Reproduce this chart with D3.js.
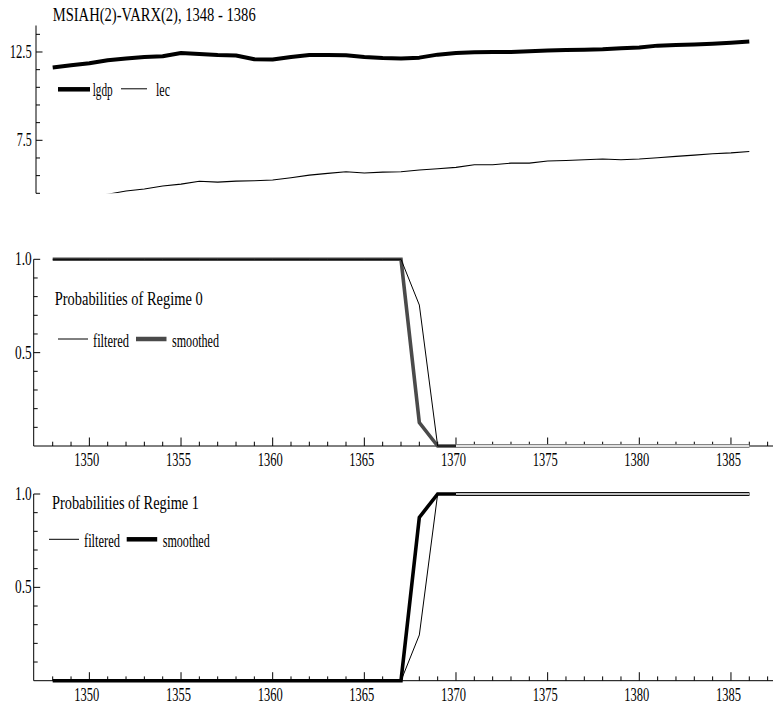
<!DOCTYPE html>
<html><head><meta charset="utf-8">
<script src="https://cdn.jsdelivr.net/npm/d3@7"></script>
<style>
html,body{margin:0;padding:0;background:#fff;}
svg{display:block;}
text{font-family:"Liberation Serif","Times New Roman",serif;fill:#000;}
</style></head>
<body>
<svg id="chart" width="774" height="711"></svg>
<script>
const years = [1348,1349,1350,1351,1352,1353,1354,1355,1356,1357,1358,1359,1360,1361,1362,1363,1364,1365,1366,1367,1368,1369,1370,1371,1372,1373,1374,1375,1376,1377,1378,1379,1380,1381,1382,1383,1384,1385,1386];
const lgdp = [11.62,11.75,11.86,12.03,12.13,12.22,12.26,12.44,12.39,12.33,12.30,12.09,12.07,12.22,12.33,12.33,12.31,12.22,12.16,12.13,12.18,12.35,12.44,12.48,12.50,12.50,12.54,12.58,12.61,12.63,12.65,12.71,12.75,12.86,12.90,12.93,12.97,13.03,13.10];
const lec = [4.05,4.15,4.28,4.45,4.63,4.74,4.91,5.02,5.18,5.13,5.19,5.21,5.25,5.38,5.53,5.63,5.72,5.65,5.70,5.72,5.82,5.89,5.97,6.12,6.12,6.21,6.21,6.33,6.36,6.40,6.44,6.40,6.44,6.51,6.59,6.66,6.74,6.79,6.87];
const reg0Filtered = [1,1,1,1,1,1,1,1,1,1,1,1,1,1,1,1,1,1,1,1,0.755,0,0,0,0,0,0,0,0,0,0,0,0,0,0,0,0,0,0];
const reg0Smoothed = [1,1,1,1,1,1,1,1,1,1,1,1,1,1,1,1,1,1,1,1,0.125,0,0,0,0,0,0,0,0,0,0,0,0,0,0,0,0,0,0];
const reg1Filtered = [0,0,0,0,0,0,0,0,0,0,0,0,0,0,0,0,0,0,0,0,0.245,1,1,1,1,1,1,1,1,1,1,1,1,1,1,1,1,1,1];
const reg1Smoothed = [0,0,0,0,0,0,0,0,0,0,0,0,0,0,0,0,0,0,0,0,0.875,1,1,1,1,1,1,1,1,1,1,1,1,1,1,1,1,1,1];
const xTickLabels = [1350,1355,1360,1365,1370,1375,1380,1385];
const topTickLabels = [7.5,12.5];
const probTickLabels = [0.5,1.0];
const title = "MSIAH(2)-VARX(2), 1348 - 1386";

const svg = d3.select("#chart");
const FS = 18;
function txt(x,y,s,anchor,w){
  const t = svg.append("text").attr("x",x).attr("y",y).attr("font-size",FS)
    .attr("text-anchor",anchor||"start").text(s);
  if(w){ t.attr("textLength",w).attr("lengthAdjust","spacingAndGlyphs"); }
  return t;
}

const x = d3.scaleLinear().domain([1348,1386]).range([52.7,749.3]);
const xAll = d3.range(1348,1388);

// ---------- top panel ----------
const yTop = d3.scaleLinear().domain([4.5,14]).range([193.3,25.5]);
svg.append("clipPath").attr("id","clipTop").append("rect")
  .attr("x",36).attr("y",0).attr("width",740).attr("height",193.3);
const gTop = svg.append("g");
gTop.append("line").attr("x1",36).attr("x2",36).attr("y1",yTop(14)).attr("y2",yTop(4.5))
  .attr("stroke","#000").attr("stroke-width",1);
d3.range(4.5,14,1).forEach(v=>{
  const major = topTickLabels.includes(v);
  gTop.append("line").attr("x1",36).attr("x2",36+(major?6.5:4))
    .attr("y1",yTop(v)).attr("y2",yTop(v)).attr("stroke","#000").attr("stroke-width",1);
});
topTickLabels.forEach(v=>{
  const s = d3.format(".1f")(v);
  txt(31.7,yTop(v)+6,s,"end",s.length===4?22:15);
});

const lineTop = (arr)=>d3.line().x((d,i)=>x(years[i])).y(d=>yTop(d))(arr);
gTop.append("path").attr("d",lineTop(lec)).attr("fill","none").attr("stroke","#000")
  .attr("stroke-width",1.1).attr("clip-path","url(#clipTop)");
gTop.append("path").attr("d",lineTop(lgdp)).attr("fill","none").attr("stroke","#000")
  .attr("stroke-width",4).attr("stroke-linejoin","round").attr("clip-path","url(#clipTop)");

txt(52.7,20.5,title,"start",203);
// legend top
svg.append("line").attr("x1",58).attr("x2",90).attr("y1",89.3).attr("y2",89.3)
  .attr("stroke","#000").attr("stroke-width",4.5);
txt(92.7,96,"lgdp","start",20);
svg.append("line").attr("x1",121).attr("x2",147).attr("y1",88.8).attr("y2",88.8)
  .attr("stroke","#000").attr("stroke-width",1);
txt(156,96,"lec","start",14);

// ---------- probability panels ----------
function probPanel(y0, y1, filt, smooth, smoothColor, tailColor, label, legend){
  const y = d3.scaleLinear().domain([0,1]).range([y0,y1]);
  const g = svg.append("g");
  const ax = 33.7;
  g.append("line").attr("x1",ax).attr("x2",ax).attr("y1",y(1)).attr("y2",y(0))
    .attr("stroke","#000").attr("stroke-width",1);
  d3.range(1,11).forEach(k=>{
    const v = k/10;
    const major = (k===5||k===10);
    g.append("line").attr("x1",ax).attr("x2",ax+(major?6.5:4))
      .attr("y1",y(v)).attr("y2",y(v)).attr("stroke","#000").attr("stroke-width",1);
  });
  probTickLabels.forEach(v=>txt(31.7,y(v)+6,d3.format(".1f")(v),"end",16.7));
  g.append("line").attr("x1",ax).attr("x2",773).attr("y1",y0).attr("y2",y0)
    .attr("stroke","#000").attr("stroke-width",1);
  xAll.forEach(yr=>{
    const major = yr%5===0;
    g.append("line").attr("x1",x(yr)).attr("x2",x(yr)).attr("y1",y0).attr("y2",y0-(major?8.5:4.3))
      .attr("stroke","#000").attr("stroke-width",1);
  });
  xTickLabels.forEach(yr=>txt(x(yr)-2.5,y0+20,String(yr),"middle",25));

  const ln = d3.line().x((d,i)=>x(years[i])).y(d=>y(d));
  g.append("path").attr("d",ln(smooth)).attr("fill","none").attr("stroke",smoothColor)
    .attr("stroke-width",3.6).attr("stroke-linejoin","miter");
  g.append("path").attr("d",ln(filt)).attr("fill","none").attr("stroke","#000")
    .attr("stroke-width",1);
  const i0 = years.indexOf(1370);
  const tail = d3.line().x((d,i)=>x(years[i+i0])).y(d=>y(d));
  g.append("path").attr("d",tail(smooth.slice(i0))).attr("fill","none").attr("stroke",tailColor)
    .attr("stroke-width",3.6);
  g.append("path").attr("d",tail(smooth.slice(i0))).attr("fill","none").attr("stroke","#fff")
    .attr("stroke-width",1.3);

  txt(label.x,label.y,label.text,"start",label.w);
  svg.append("line").attr("x1",legend.x1).attr("x2",legend.x1+30).attr("y1",legend.y).attr("y2",legend.y)
    .attr("stroke","#000").attr("stroke-width",1);
  txt(legend.x1+35,legend.y+7.6,"filtered","start",36);
  svg.append("line").attr("x1",legend.x2).attr("x2",legend.x2+30.5).attr("y1",legend.y).attr("y2",legend.y)
    .attr("stroke",smoothColor).attr("stroke-width",4.5);
  txt(legend.x2+36,legend.y+7.6,"smoothed","start",47);
}

probPanel(446,259.3,reg0Filtered,reg0Smoothed,"#4a4a4a","#8a8a8a",
  {x:54.7,y:305,text:"Probabilities of Regime 0",w:148},{x1:58,x2:136,y:339});
probPanel(680.7,494,reg1Filtered,reg1Smoothed,"#000","#000",
  {x:52,y:509,text:"Probabilities of Regime 1",w:147},{x1:49,x2:126.7,y:539.3});
</script>
</body></html>
